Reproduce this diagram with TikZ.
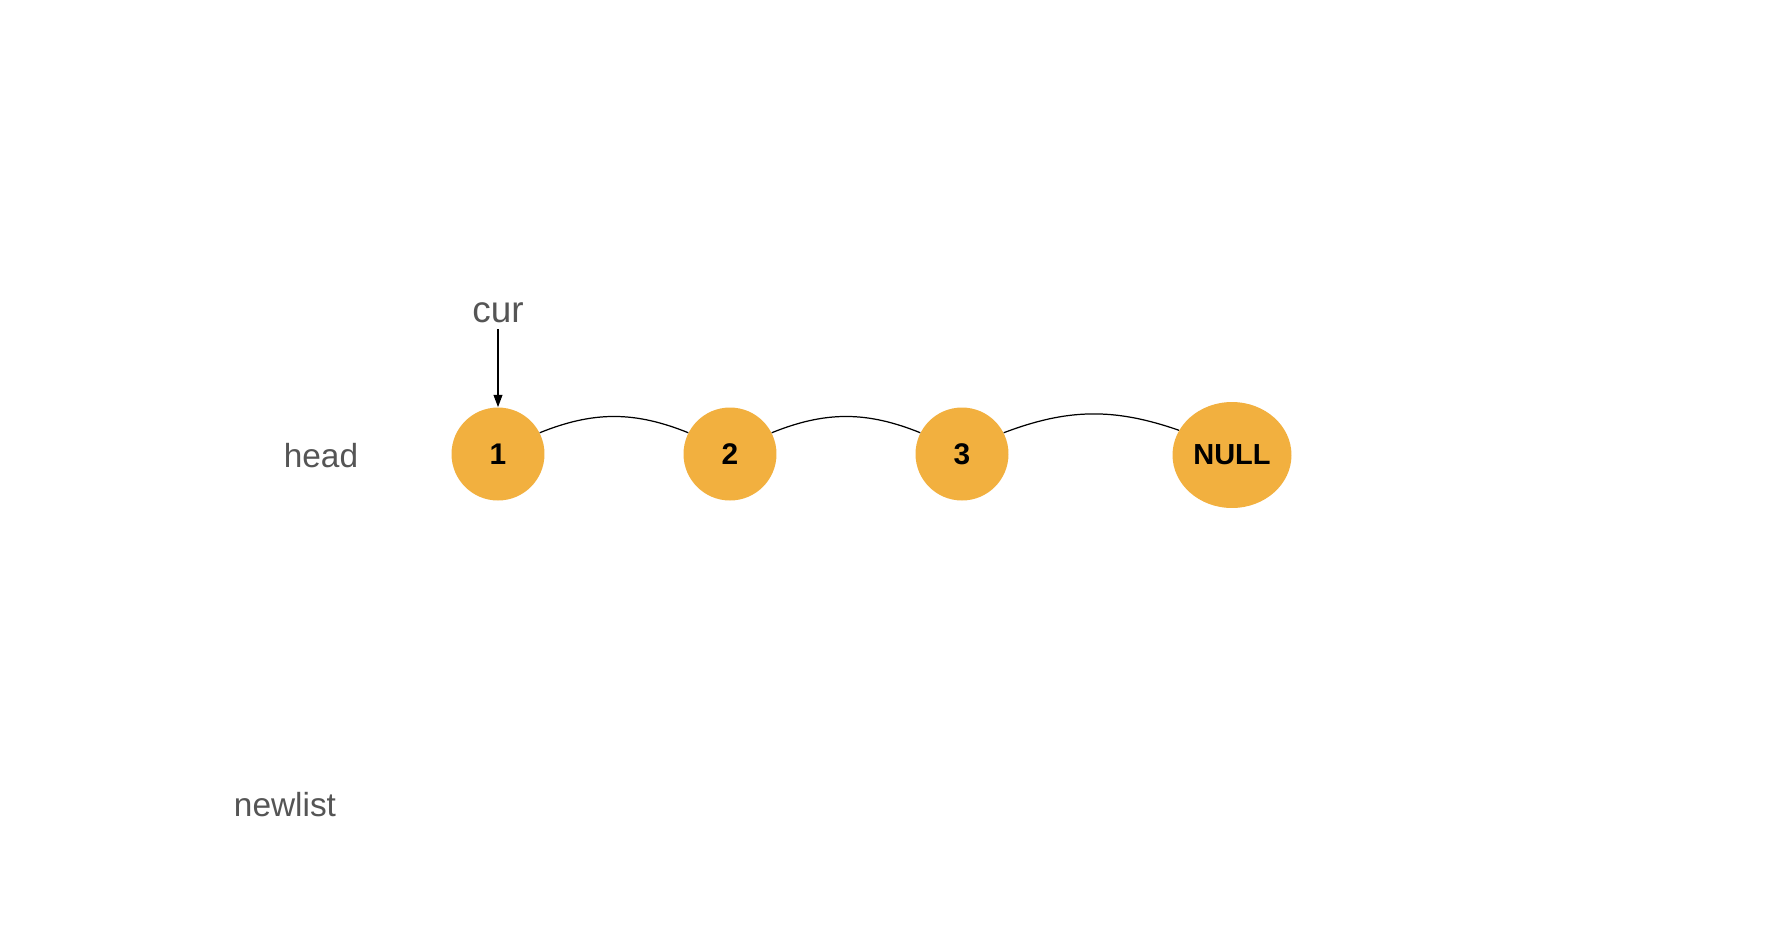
\documentclass[tikz,border=0pt]{standalone}
\usepackage{fontspec}
\setmainfont{Liberation Sans}
\usetikzlibrary{arrows.meta,shapes.geometric}
\definecolor{nodeorange}{HTML}{F2B03F}
\definecolor{labelgray}{HTML}{555555}
\begin{document}
\begin{tikzpicture}[x=0.02cm, y=-0.02cm]
    \tikzset{elem/.style={circle, fill=nodeorange, minimum size=1.86cm, inner sep=0pt, font=\fontsize{17}{19}\selectfont\bfseries}}
    \tikzset{nullelem/.style={ellipse, fill=nodeorange, minimum width=2.38cm, minimum height=2.12cm, inner sep=0pt, font=\fontsize{16.5}{19}\selectfont\bfseries}}
    \tikzset{ptrlabel/.style={text=labelgray, font=\fontsize{19}{22}\selectfont}}
    \tikzset{link/.style={line width=0.7pt}}

    \useasboundingbox[fill=white] (0,0) rectangle (1786,924);

    % ── LISTA ────────────────────────────────────────────
    \node[elem] (n1) at (498,454) {1};
    \node[elem] (n2) at (730,454) {2};
    \node[elem] (n3) at (962,454) {3};
    \node[nullelem] (nnull) at (1232,455) {NULL};

    % collegamenti
    \draw[link] (n1.27) to[bend left=22] (n2.153);
    \draw[link] (n2.27) to[bend left=22] (n3.153);
    \draw[link] (n3.27) to[bend left=20] (nnull.155);

    % ── ETICHETTE ────────────────────────────────────────
    \node[ptrlabel] (head) at (321,456) {head};
    \node[ptrlabel, font=\fontsize{21}{24}\selectfont] (cur) at (498,313) {cur};
    \node[ptrlabel] (newlist) at (285,805) {newlist};

    % puntatore cur
    \draw[line width=0.8pt, -{Triangle[length=7pt, width=5pt]}] (cur.south) -- (cur.south |- n1.north);

\end{tikzpicture}
\end{document}
